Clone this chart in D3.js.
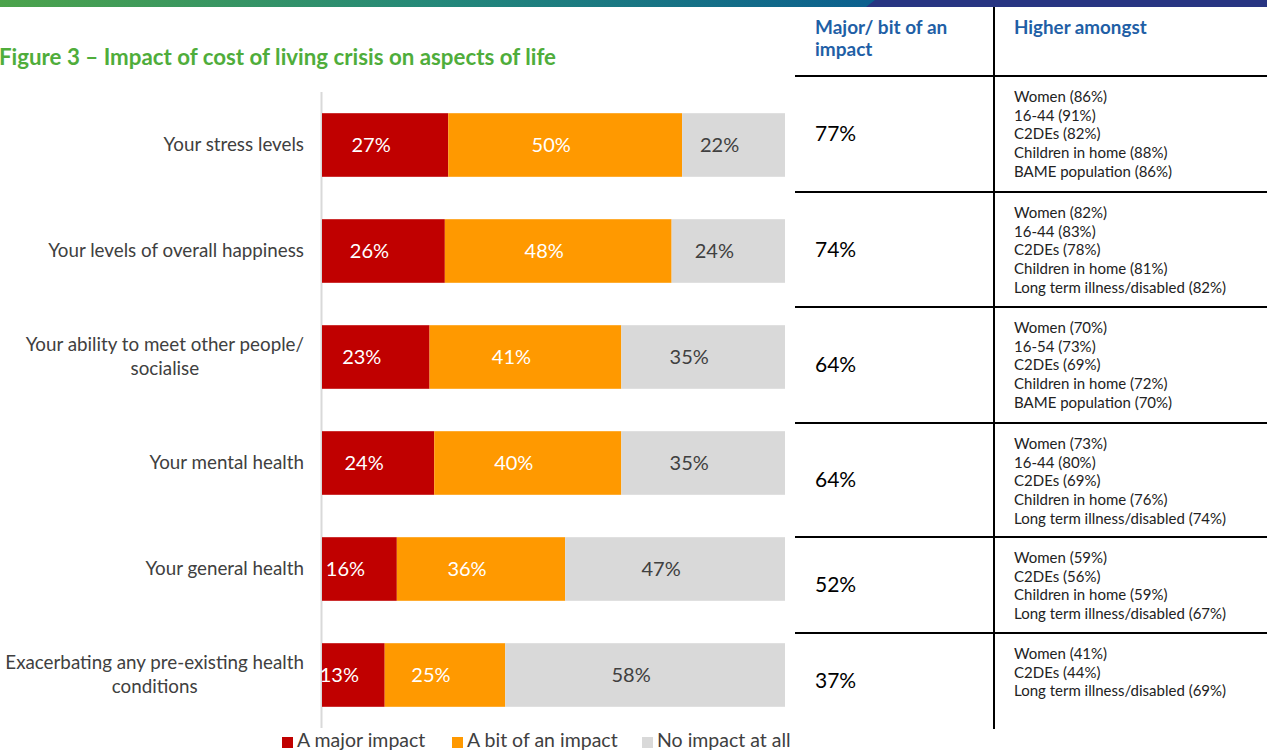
<!DOCTYPE html>
<meta charset="utf-8">
<script src="https://cdn.jsdelivr.net/npm/d3@7"></script>
<style>
  body { margin: 0; background: #fff; }
  text { font-family: Lato, "Open Sans", sans-serif; }
</style>
<body>
<script>

// chart data
var categories = [
  ["Your stress levels"],
  ["Your levels of overall happiness"],
  ["Your ability to meet other people/", "socialise"],
  ["Your mental health"],
  ["Your general health"],
  ["Exacerbating any pre-existing health", "conditions"]
]
var major = [27, 26, 23, 24, 16, 13]
var bit = [50, 48, 41, 40, 36, 25]
var none = [22, 24, 35, 35, 47, 58]
var seriesNames = ["A major impact", "A bit of an impact", "No impact at all"]
var seriesColors = ["#c00000", "#ff9900", "#d9d9d9"]

// side table data
var totals = ["77%", "74%", "64%", "64%", "52%", "37%"]
var higherAmongst = [
  ["Women (86%)", "16-44 (91%)", "C2DEs (82%)", "Children in home (88%)", "BAME population (86%)"],
  ["Women (82%)", "16-44 (83%)", "C2DEs (78%)", "Children in home (81%)", "Long term illness/disabled (82%)"],
  ["Women (70%)", "16-54 (73%)", "C2DEs (69%)", "Children in home (72%)", "BAME population (70%)"],
  ["Women (73%)", "16-44 (80%)", "C2DEs (69%)", "Children in home (76%)", "Long term illness/disabled (74%)"],
  ["Women (59%)", "C2DEs (56%)", "Children in home (59%)", "Long term illness/disabled (67%)"],
  ["Women (41%)", "C2DEs (44%)", "Long term illness/disabled (69%)"]
]
var tableRowEdges = [76, 192, 307, 423, 537, 633, 729]

var width = 1267
var height = 751

var svg = d3.select("body").append("svg")
            .attr("width", width)
            .attr("height", height)

// banner strip across the top
var defs = svg.append("defs")
var grad = defs.append("linearGradient").attr("id", "topgrad").attr("x1", "0").attr("x2", "1")
grad.append("stop").attr("offset", "0").attr("stop-color", "#4ca34b")
grad.append("stop").attr("offset", "0.5").attr("stop-color", "#24887a")
grad.append("stop").attr("offset", "1").attr("stop-color", "#0b5f8f")
svg.append("rect").attr("x", 0).attr("y", 0).attr("width", 880).attr("height", 7).attr("fill", "url(#topgrad)")
svg.append("path").attr("d", "M875,0 L1267,0 L1267,7 L866,7 Z").attr("fill", "#283582")

// title
svg.append("text")
   .attr("x", -1)
   .attr("y", 65)
   .style("font-size", "22.3px")
   .style("font-weight", "bold")
   .style("fill", "#4fad3b")
   .text("Figure 3 \u2013 Impact of cost of living crisis on aspects of life")

// scales
var x = d3.scaleLinear().domain([0, 1]).range([322, 785])
var y = d3.scaleBand().domain(d3.range(categories.length)).range([92, 728]).paddingInner(0.4).paddingOuter(0.2)

var rows = categories.map(function(c, i) {
  return { i: i, values: [major[i], bit[i], none[i]] }
})
var stack = d3.stack().keys([0, 1, 2]).value(function(d, k) { return d.values[k] }).offset(d3.stackOffsetExpand)
var layers = stack(rows)

// axis line
svg.append("line").attr("x1", 321.5).attr("x2", 321.5).attr("y1", 92).attr("y2", 728)
   .style("stroke", "#d9d9d9").style("stroke-width", 2)

var layer = svg.selectAll(".layer").data(layers).enter().append("g").attr("class", "layer")
layer.selectAll("rect").data(function(d) { return d }).enter().append("rect")
     .attr("x", function(d) { return x(d[0]) })
     .attr("width", function(d) { return x(d[1]) - x(d[0]) })
     .attr("y", function(d, i) { return y(i) })
     .attr("height", y.bandwidth())
     .attr("fill", function(d) { return seriesColors[this.parentNode.__data__.key] })

layer.selectAll(".lbl").data(function(d) { return d.map(function(s) { return { s: s, key: d.key } }) }).enter().append("text")
     .attr("class", "lbl")
     .attr("x", function(d) { return (x(d.s[0]) + x(d.s[1])) / 2 - 14 })
     .attr("y", function(d, i) { return y(i) + y.bandwidth() / 2 + 7 })
     .attr("text-anchor", "middle")
     .style("font-size", "20px")
     .style("fill", function(d) { return d.key == 2 ? "#404040" : "#fff" })
     .text(function(d) { return d.s.data.values[d.key] + "%" })

// category labels, lines centred on each other, block right aligned
categories.forEach(function(lines, i) {
  var g = svg.append("g")
  var cy = y(i) + y.bandwidth() / 2
  var t = g.selectAll("text").data(lines).enter().append("text")
           .attr("y", function(d, k) { return cy + 6 + (k - (lines.length - 1) / 2) * 24 })
           .attr("text-anchor", "middle")
           .style("font-size", "18.8px")
           .style("fill", "#404040")
           .text(function(d) { return d })
  var maxW = d3.max(t.nodes(), function(n) { return n.getComputedTextLength() })
  t.attr("x", 304 - maxW / 2)
})

// legend
var legendX = [282, 452, 642]
seriesNames.forEach(function(name, k) {
  svg.append("rect").attr("x", legendX[k]).attr("y", 737).attr("width", 11).attr("height", 11).attr("fill", seriesColors[k])
  svg.append("text").attr("x", legendX[k] + 15).attr("y", 747)
     .style("font-size", "19.5px").style("fill", "#404040").text(name)
})

// side table
var tbl = svg.append("g")
tbl.append("line").attr("x1", 994).attr("x2", 994).attr("y1", 7).attr("y2", 729)
   .style("stroke", "#000").style("stroke-width", 2)
tableRowEdges.slice(0, 6).forEach(function(yy) {
  tbl.append("line").attr("x1", 795).attr("x2", 1267).attr("y1", yy).attr("y2", yy)
     .style("stroke", "#000").style("stroke-width", 2)
})
var headerColor = "#1f5fa6"
tbl.append("text").attr("x", 815).attr("y", 34).style("font-size", "19px").style("font-weight", "bold")
   .style("fill", headerColor).text("Major/ bit of an")
tbl.append("text").attr("x", 815).attr("y", 56).style("font-size", "19px").style("font-weight", "bold")
   .style("fill", headerColor).text("impact")
tbl.append("text").attr("x", 1014).attr("y", 34).style("font-size", "18.8px").style("font-weight", "bold")
   .style("fill", headerColor).text("Higher amongst")

totals.forEach(function(t, i) {
  var top = tableRowEdges[i], bottom = tableRowEdges[i + 1]
  tbl.append("text").attr("x", 815).attr("y", (top + bottom) / 2 + 7)
     .style("font-size", "21px").style("fill", "#000").text(t)
  tbl.selectAll(".sub" + i).data(higherAmongst[i]).enter().append("text")
     .attr("x", 1014)
     .attr("y", function(d, k) { return top + 26 + k * 18.7 })
     .style("font-size", "15px").style("fill", "#222")
     .text(function(d) { return d })
})

</script>
</body>
